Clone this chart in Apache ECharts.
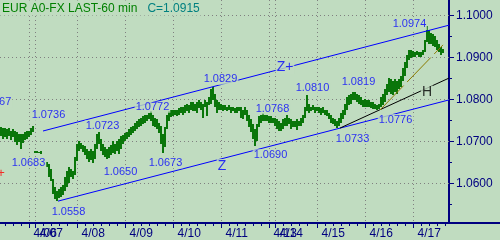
<!DOCTYPE html>
<html><head><meta charset="utf-8">
<script src="https://cdn.jsdelivr.net/npm/echarts@6/dist/echarts.min.js"></script>
<style>html,body{margin:0;padding:0;background:#c0dcc0}#c{width:500px;height:240px}</style>
</head><body><div id="c"></div>
<script>
// hourly bars (slot index = array index), high / low
const hi = [1.0735,1.0733,1.0731,1.0729,1.0731,1.0726,1.0729,1.0724,1.0722,1.0719,1.0717,1.0719,1.0722,1.0724,1.0726,1.0731,1.0736,
1.0677,1.0677,1.0676,1.0677,null,null,
1.0651,1.0646,1.0634,1.0610,1.0592,1.0582,1.0587,1.0592,1.0596,1.0615,1.0629,1.0639,1.0634,1.0629,1.0663,1.0694,
1.0701,1.0696,1.0691,1.0689,1.0682,1.0677,1.0682,1.0677,1.0694,1.0717,1.0723,1.0705,1.0694,1.0686,1.0682,1.0686,1.0691,1.0701,1.0694,1.0701,1.0705,1.0712,1.0715,1.0720,
1.0722,1.0729,1.0734,1.0738,1.0743,1.0748,1.0753,1.0757,1.0760,1.0762,1.0764,1.0769,1.0772,1.0762,1.0757,1.0753,1.0743,1.0736,1.0717,1.0734,1.0764,1.0772,
1.0774,1.0774,1.0776,1.0774,1.0779,1.0783,1.0781,1.0786,1.0790,1.0788,1.0793,1.0795,1.0790,1.0793,1.0798,1.0795,1.0790,1.0800,1.0793,1.0805,1.0824,1.0829,1.0812,1.0800,1.0793,1.0790,
1.0788,1.0786,1.0783,1.0788,1.0781,1.0783,1.0779,1.0781,1.0783,1.0781,1.0776,1.0781,1.0776,1.0764,1.0753,1.0741,1.0729,1.0741,1.0760,1.0762,1.0768,1.0764,1.0762,1.0760,
1.0760,1.0757,1.0755,
1.0753,1.0748,1.0743,1.0753,1.0757,1.0762,1.0757,1.0753,1.0748,1.0750,1.0753,1.0750,1.0755,1.0764,1.0781,1.0810,1.0790,1.0783,1.0786,1.0781,1.0783,
1.0781,1.0779,1.0781,1.0776,1.0774,1.0769,1.0762,1.0757,1.0753,1.0750,1.0757,1.0767,1.0776,1.0790,1.0805,1.0810,1.0812,1.0817,1.0819,1.0814,1.0810,1.0805,1.0800,1.0802,
1.0800,1.0798,1.0795,1.0793,1.0790,1.0788,1.0790,1.0805,1.0814,1.0824,1.0838,1.0852,1.0848,1.0843,1.0848,1.0843,1.0848,1.0857,1.0876,1.0890,1.0907,1.0919,1.0919,1.0916,
1.0914,1.0916,1.0914,1.0912,1.0919,1.0942,1.0974,1.0966,1.0959,1.0957,1.0952,1.0942,1.0933,1.0926,1.0921];
const lo = [1.0712,1.0707,1.0710,1.0705,1.0712,1.0703,1.0710,1.0700,1.0691,1.0698,1.0683,1.0696,1.0703,1.0705,1.0710,1.0715,1.0722,
1.0672,1.0673,1.0672,1.0671,null,null,
1.0639,1.0615,1.0606,1.0575,1.0563,1.0558,1.0565,1.0568,1.0573,1.0582,1.0592,1.0601,1.0615,1.0610,1.0620,1.0653,
1.0677,1.0682,1.0675,1.0667,1.0658,1.0652,1.0656,1.0650,1.0658,1.0682,1.0694,1.0677,1.0667,1.0663,1.0658,1.0660,1.0667,1.0672,1.0670,1.0677,1.0670,1.0682,1.0694,1.0701,
1.0705,1.0710,1.0715,1.0720,1.0724,1.0729,1.0734,1.0738,1.0741,1.0743,1.0748,1.0753,1.0750,1.0738,1.0734,1.0729,1.0720,1.0694,1.0673,1.0686,1.0729,1.0748,
1.0758,1.0760,1.0762,1.0760,1.0764,1.0769,1.0764,1.0769,1.0772,1.0767,1.0776,1.0772,1.0772,1.0769,1.0779,1.0776,1.0757,1.0781,1.0760,1.0786,1.0790,1.0800,1.0781,1.0769,1.0776,1.0774,
1.0772,1.0774,1.0772,1.0774,1.0769,1.0772,1.0769,1.0767,1.0772,1.0757,1.0753,1.0762,1.0750,1.0734,1.0722,1.0705,1.0690,1.0701,1.0734,1.0743,1.0748,1.0750,1.0748,1.0743,
1.0745,1.0743,1.0738,
1.0729,1.0726,1.0724,1.0729,1.0736,1.0738,1.0741,1.0729,1.0734,1.0734,1.0727,1.0736,1.0738,1.0743,1.0757,1.0772,1.0767,1.0772,1.0774,1.0769,1.0772,
1.0767,1.0764,1.0767,1.0762,1.0760,1.0753,1.0745,1.0741,1.0736,1.0733,1.0738,1.0743,1.0753,1.0764,1.0776,1.0786,1.0790,1.0798,1.0800,1.0793,1.0790,1.0786,1.0781,1.0783,
1.0781,1.0781,1.0779,1.0778,1.0777,1.0776,1.0778,1.0781,1.0786,1.0795,1.0810,1.0819,1.0814,1.0810,1.0819,1.0814,1.0824,1.0829,1.0843,1.0857,1.0876,1.0895,1.0900,1.0902,
1.0902,1.0905,1.0902,1.0902,1.0905,1.0912,1.0938,1.0933,1.0931,1.0928,1.0924,1.0919,1.0914,1.0907,1.0910];

const dayTicks  = [15,18,39,63,87,111,135,138,159,183,207];
const dayLabels = ['4/06','4/07','4/08','4/09','4/10','4/11','4/13','4/14','4/15','4/16','4/17'];
const minorTicks = [3,7,11,22,26,30,34,43,47,51,55,59,67,71,75,79,83,91,95,99,103,107,115,119,123,127,131,
  142,146,150,154,163,167,171,175,179,187,191,195,199,203,211,215,219,223];
const yMajor = [1.06,1.07,1.08,1.09,1.10];
const yMinor = [1.055,1.065,1.075,1.085,1.095];

const upperLine = [[21.75,1.0725],[224.75,1.0977]];
const lowerLine = [[29.25,1.0558],[224.75,1.0799]];
const hLine     = [[170.25,1.0732],[224.75,1.0851]];
const oliveLine = [[190.25,1.0775],[221.75,1.0930]];

const swingBars   = [0,16,10,28,49,46,75,81,106,127,131,153,168,177,188,213];
const swingValues = [1.0767,1.0736,1.0683,1.0558,1.0723,1.0650,1.0772,1.0673,1.0829,1.0690,1.0768,1.0810,1.0733,1.0819,1.0776,1.0974];
const tagText   = ['Z+','Z','H'];
const tagCoords = [[142.75,1.08774],[111.25,1.06417],[213.75,1.08167]];
const tagColors = ['#0000ff','#0000ff','#000000'];
const crossCoord = [0.75,1.0625];

const titleText = 'EUR A0-FX LAST-60 min';
const lastText = 'C=1.0915';

// styles
const BG = '#c0dcc0', NAVY = '#000080', BLUE = '#0000ff', LBLUE = '#0000ff';
const FONT = '"Liberation Sans", Arial, sans-serif';
const swingOffsets = [[-6,-11],[16,-11],[8,14],[12,11],[4,-6],[28,9],[2,-4],[3,10],[8,-8],[16,9],[10,-4],[6,-7],[16,11],[4,-10],[19,10],[-17,-2]];

const X0 = 0.25, X1 = 224.75, Y0 = 1.1 - 207.5/4200, Y1 = 1.1 + 15.5/4200;

// the overlapping Sunday/Monday labels go on the second axis so both are drawn
const secondLayer = [1, 7];
const mainTickLabels = dayTicks.filter((d,i)=>secondLayer.indexOf(i)<0);
const altTickLabels  = dayTicks.filter((d,i)=>secondLayer.indexOf(i)>=0);
const dayLabelOf = v => dayLabels[dayTicks.indexOf(v)];

const bars = [];
hi.forEach((h,i)=>{ if(h!=null) bars.push([i+0.5, h, lo[i]]); });

const chart = echarts.init(document.getElementById('c'), null, {renderer:'canvas'});
function lineSeries(data, color, type, z){
  return {type:'line', data, symbol:'none', silent:true, clip:false, z:z||3,
    lineStyle:{color, width:1, type:type||'solid'}, animation:false};
}
const dotted = {stroke:'#808080', lineWidth:1, lineDash:[1,3], fill:null};
const labelBase = {color:NAVY, fontSize:12, fontFamily:FONT, align:'left', padding:[0,0,0,4], margin:5,
  showMinLabel:true, showMaxLabel:true, hideOverlap:false, formatter:dayLabelOf};
chart.setOption({
  animation:false,
  backgroundColor: BG,
  title:{
    text:'{a|'+titleText+'}   {b|'+lastText+'}', left:0, top:0, padding:[2,4,1,2],
    backgroundColor:BG, z:20,
    textStyle:{fontWeight:'normal', fontSize:12, fontFamily:FONT,
      rich:{a:{color:'#008000',fontSize:12,fontFamily:FONT,fontWeight:'normal',lineHeight:13},
            b:{color:'#008080',fontSize:12,fontFamily:FONT,fontWeight:'normal',lineHeight:13}}}
  },
  grid:{left:0, right:51, top:0, bottom:17},
  xAxis:[{
    type:'value', min:X0, max:X1, position:'bottom',
    axisLine:{show:true, lineStyle:{color:NAVY, width:2}},
    axisTick:{show:true, customValues:dayTicks, length:5, lineStyle:{color:NAVY,width:1}},
    axisLabel:Object.assign({show:true, customValues:mainTickLabels}, labelBase),
    splitLine:{show:false}
  },{
    type:'value', min:X0, max:X1, position:'bottom',
    axisLine:{show:false},
    axisTick:{show:true, customValues:minorTicks, length:3, lineStyle:{color:NAVY,width:1}},
    axisLabel:Object.assign({show:true, customValues:altTickLabels}, labelBase),
    splitLine:{show:false}
  }],
  yAxis:[{
    type:'value', min:Y0, max:Y1, position:'right',
    axisLine:{show:true, lineStyle:{color:NAVY, width:2}},
    axisTick:{show:true, customValues:yMajor, length:5, lineStyle:{color:NAVY,width:1}},
    axisLabel:{show:true, customValues:yMajor, formatter:v=>v.toFixed(4), color:NAVY, fontSize:12, fontFamily:FONT, margin:7},
    splitLine:{show:false}
  },{
    type:'value', min:Y0, max:Y1, position:'right',
    axisLine:{show:false},
    axisTick:{show:true, customValues:yMinor, length:3, lineStyle:{color:NAVY,width:1}},
    axisLabel:{show:false}, splitLine:{show:false}
  }],
  graphic:[{type:'rect', shape:{x:449,y:222,width:51,height:2}, style:{fill:NAVY}, silent:true}],
  series:[
    // horizontal dotted grid
    {type:'custom', z:1, silent:true, clip:false, encode:{x:0,y:1},
     data: yMajor.map(v=>[X0, v]),
     renderItem:function(p, api){
       const a = api.coord([X0, api.value(1)]), b = api.coord([X1, api.value(1)]);
       return {type:'line', shape:{x1:a[0], y1:a[1], x2:b[0], y2:b[1]}, style:dotted};
     }},
    // vertical dotted grid at day boundaries
    {type:'custom', z:1, silent:true, clip:false, encode:{x:0,y:1},
     data: dayTicks.map(d=>[d, Y0]),
     renderItem:function(p, api){
       const a = api.coord([api.value(0), Y1]), b = api.coord([api.value(0), Y0]);
       return {type:'line', shape:{x1:a[0], y1:a[1], x2:b[0], y2:b[1]}, style:dotted};
     }},
    {type:'custom', xAxisIndex:0, yAxisIndex:0, z:2, clip:false, silent:true,
     encode:{x:0, y:[1,2]},
     renderItem:function(params, api){
       const p1 = api.coord([api.value(0), api.value(1)]);
       const p2 = api.coord([api.value(0), api.value(2)]);
       const x = Math.round(p1[0]) - 1, y1 = Math.round(p1[1]), y2 = Math.round(p2[1]);
       return {type:'rect', shape:{x:x, y:y1, width:2, height:Math.max(1,y2-y1)},
               style:{fill:'#0a760a'}};
     },
     data:bars},
    lineSeries(upperLine, BLUE),
    lineSeries(lowerLine, BLUE),
    lineSeries(hLine, '#000000'),
    lineSeries(oliveLine, '#8a7a00', [34,5]),
    {type:'scatter', symbolSize:0, z:10, clip:false, silent:true,
     data: swingBars.map((b,i)=>({value:[b+0.5, swingValues[i]], name:swingValues[i].toFixed(4),
        label:{offset:swingOffsets[i]}})).concat(
        tagText.map((t,i)=>({value:tagCoords[i], name:t, label:{fontSize:14, color:tagColors[i], offset:[0,0]}})),
        [{value:crossCoord, name:'+', label:{fontSize:13, color:'#ff0000', offset:[0,0], backgroundColor:'transparent'}}]),
     label:{show:true, position:'inside', formatter:'{b}', color:LBLUE, fontSize:11, fontFamily:FONT,
        backgroundColor:BG, padding:[0,1], align:'center', verticalAlign:'middle'}
    }
  ]
});
</script></body></html>
